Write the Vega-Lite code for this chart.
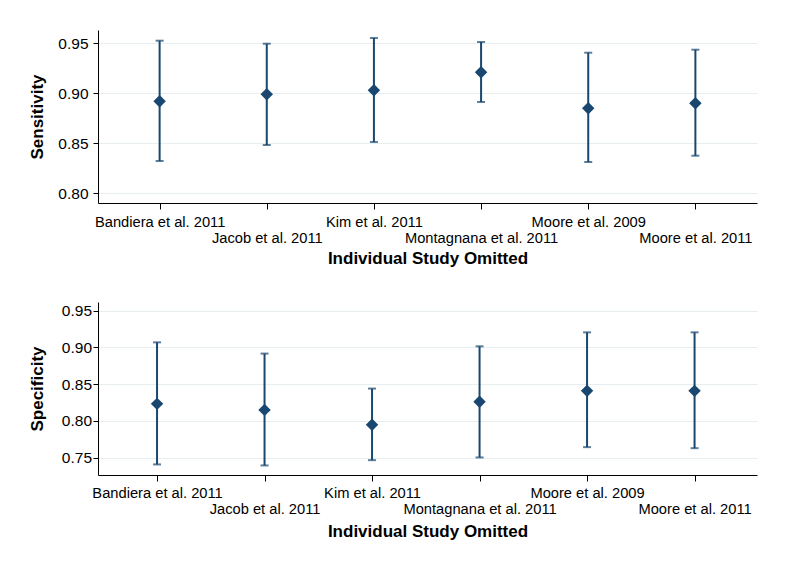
{
  "$schema": "https://vega.github.io/schema/vega-lite/v6.json",
  "background": "white",
  "padding": {"left": 28, "top": 30, "right": 5, "bottom": 5},
  "spacing": 35,
  "config": {
    "font": "Liberation Sans",
    "view": {"stroke": null},
    "axis": {
      "domainColor": "#000000",
      "domainWidth": 1,
      "tickColor": "#000000",
      "tickWidth": 1,
      "labelColor": "#000000",
      "labelFont": "Liberation Sans",
      "labelFontSize": 14.7,
      "titleFont": "Liberation Sans",
      "titleFontSize": 17,
      "titleFontWeight": "bold",
      "titleColor": "#000000",
      "gridColor": "#e6eeef",
      "gridWidth": 1
    }
  },
  "datasets": {
    "sens": [
      {"study": "Bandiera et al. 2011", "est": 0.892, "lo": 0.8323, "hi": 0.9526},
      {"study": "Jacob et al. 2011", "est": 0.899, "lo": 0.8483, "hi": 0.9496},
      {"study": "Kim et al. 2011", "est": 0.903, "lo": 0.8513, "hi": 0.9553},
      {"study": "Montagnana et al. 2011", "est": 0.921, "lo": 0.8913, "hi": 0.9513},
      {"study": "Moore et al. 2009", "est": 0.885, "lo": 0.8313, "hi": 0.9406},
      {"study": "Moore et al. 2011", "est": 0.890, "lo": 0.8376, "hi": 0.9436}
    ],
    "spec": [
      {"study": "Bandiera et al. 2011", "est": 0.8232, "lo": 0.7408, "hi": 0.9069},
      {"study": "Jacob et al. 2011", "est": 0.815, "lo": 0.7394, "hi": 0.8916},
      {"study": "Kim et al. 2011", "est": 0.7947, "lo": 0.7466, "hi": 0.844},
      {"study": "Montagnana et al. 2011", "est": 0.826, "lo": 0.7503, "hi": 0.9015},
      {"study": "Moore et al. 2009", "est": 0.8409, "lo": 0.7643, "hi": 0.9205},
      {"study": "Moore et al. 2011", "est": 0.8409, "lo": 0.7629, "hi": 0.9205}
    ]
  },
  "vconcat": [
    {
      "width": 659,
      "height": 173,
      "data": {"name": "sens"},
      "encoding": {
        "x": {
          "field": "study", "type": "nominal", "sort": null,
          "scale": {"type": "point", "padding": 0.575},
          "axis": {
            "title": "Individual Study Omitted",
            "labelAngle": 0, "tickSize": 6, "labelOverlap": false,
            "labelPadding": {"condition": {"test": "indexof(['Jacob et al. 2011','Montagnana et al. 2011','Moore et al. 2011'], datum.value) >= 0", "value": 21}, "value": 5},
            "titlePadding": 6,
            "grid": false
          }
        }
      },
      "layer": [
        {
          "mark": {"type": "rule", "color": "#1a476f", "strokeWidth": 2},
          "encoding": {
            "y": {
              "field": "lo", "type": "quantitative",
              "scale": {"domain": [0.7903, 0.9633], "nice": false, "zero": false},
              "axis": {"title": "Sensitivity", "values": [0.8, 0.85, 0.9, 0.95], "format": ".2f", "labelFontSize": 15.5, "tickSize": 5, "labelPadding": 5, "titlePadding": 11, "grid": true}
            },
            "y2": {"field": "hi"}
          }
        },
        {
          "mark": {"type": "tick", "color": "#1a476f", "size": 8, "thickness": 2, "orient": "horizontal"},
          "encoding": {"y": {"field": "lo", "type": "quantitative"}}
        },
        {
          "mark": {"type": "tick", "color": "#1a476f", "size": 8, "thickness": 2, "orient": "horizontal"},
          "encoding": {"y": {"field": "hi", "type": "quantitative"}}
        },
        {
          "mark": {"type": "point", "shape": "diamond", "filled": true, "color": "#1a476f", "size": 155, "opacity": 1},
          "encoding": {"y": {"field": "est", "type": "quantitative"}}
        }
      ]
    },
    {
      "width": 659,
      "height": 173,
      "data": {"name": "spec"},
      "encoding": {
        "x": {
          "field": "study", "type": "nominal", "sort": null,
          "scale": {"type": "point", "padding": 0.565, "align": 0.486},
          "axis": {
            "title": "Individual Study Omitted",
            "labelAngle": 0, "tickSize": 6, "labelOverlap": false,
            "labelPadding": {"condition": {"test": "indexof(['Jacob et al. 2011','Montagnana et al. 2011','Moore et al. 2011'], datum.value) >= 0", "value": 20}, "value": 4.5},
            "titlePadding": 8,
            "grid": false
          }
        }
      },
      "layer": [
        {
          "mark": {"type": "rule", "color": "#1a476f", "strokeWidth": 2},
          "encoding": {
            "y": {
              "field": "lo", "type": "quantitative",
              "scale": {"domain": [0.7264, 0.9618], "nice": false, "zero": false},
              "axis": {"title": "Specificity", "values": [0.75, 0.8, 0.85, 0.9, 0.95], "format": ".2f", "labelFontSize": 15.5, "tickSize": 5, "labelPadding": 1.5, "titlePadding": 15, "grid": true}
            },
            "y2": {"field": "hi"}
          }
        },
        {
          "mark": {"type": "tick", "color": "#1a476f", "size": 8, "thickness": 2, "orient": "horizontal"},
          "encoding": {"y": {"field": "lo", "type": "quantitative"}}
        },
        {
          "mark": {"type": "tick", "color": "#1a476f", "size": 8, "thickness": 2, "orient": "horizontal"},
          "encoding": {"y": {"field": "hi", "type": "quantitative"}}
        },
        {
          "mark": {"type": "point", "shape": "diamond", "filled": true, "color": "#1a476f", "size": 155, "opacity": 1},
          "encoding": {"y": {"field": "est", "type": "quantitative"}}
        }
      ]
    }
  ]
}
